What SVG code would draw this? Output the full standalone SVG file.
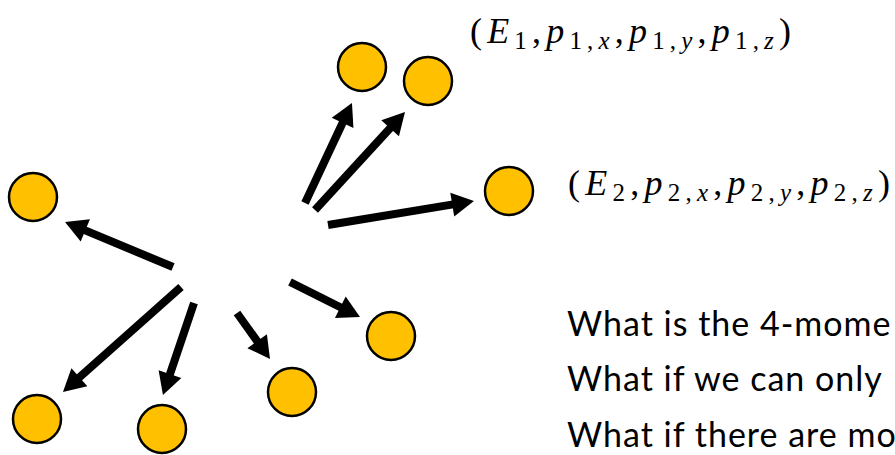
<svg xmlns="http://www.w3.org/2000/svg" width="895" height="455" viewBox="0 0 895 455">
<defs>
<marker id="ah" markerUnits="userSpaceOnUse" markerWidth="24" markerHeight="24" refX="4" refY="12" orient="auto" overflow="visible">
<path d="M0,0 L22,12 L0,24 z" fill="#000"/>
</marker>
<style>
.p{fill:#FFC000;stroke:#000;stroke-width:2.5}
.a{stroke:#000;stroke-width:8;fill:none;marker-end:url(#ah)}
.m{font-family:"Liberation Serif",serif;font-size:36px;fill:#000}
.i{font-style:italic}
.s{font-size:25px}
.q{font-family:Lato,"Liberation Sans",sans-serif;font-size:34px;letter-spacing:1px;fill:#000}
</style>
</defs>
<g id="connectors">
<line class="a" x1="173" y1="267" x2="81.6" y2="228.9"/>
<line class="a" x1="305" y1="203" x2="344.3" y2="119.3"/>
<line class="a" x1="315" y1="210" x2="392.8" y2="125.3"/>
<line class="a" x1="328" y1="225" x2="456.2" y2="203.9"/>
<line class="a" x1="181" y1="287" x2="76.4" y2="380"/>
<line class="a" x1="194" y1="303" x2="168.7" y2="377.9"/>
<line class="a" x1="237" y1="313" x2="259.5" y2="344.4"/>
<line class="a" x1="290" y1="282" x2="343.9" y2="309"/>
</g>
<g id="p1a"><circle class="p" cx="362" cy="67" r="24"/></g>
<g id="p1b"><circle class="p" cx="428" cy="81" r="24"/></g>
<g id="p2"><circle class="p" cx="509" cy="191" r="24"/></g>
<g id="pl"><circle class="p" cx="33" cy="197" r="24"/></g>
<g id="pb1"><circle class="p" cx="37" cy="419" r="24"/></g>
<g id="pb2"><circle class="p" cx="162" cy="429" r="24"/></g>
<g id="pb3"><circle class="p" cx="292" cy="392" r="24"/></g>
<g id="pb4"><circle class="p" cx="391" cy="336" r="24"/></g>
<g id="label1">
<text class="m" x="470" y="43" textLength="321" lengthAdjust="spacing">(<tspan class="i">E</tspan><tspan class="s" dy="6">1</tspan><tspan dy="-6">,</tspan><tspan class="i">p</tspan><tspan class="s" dy="6">1,</tspan><tspan class="s i">x</tspan><tspan dy="-6">,</tspan><tspan class="i">p</tspan><tspan class="s" dy="6">1,</tspan><tspan class="s i">y</tspan><tspan dy="-6">,</tspan><tspan class="i">p</tspan><tspan class="s" dy="6">1,</tspan><tspan class="s i">z</tspan><tspan dy="-6">)</tspan></text>
</g>
<g id="label2">
<text class="m" x="568" y="195" textLength="322" lengthAdjust="spacing">(<tspan class="i">E</tspan><tspan class="s" dy="6">2</tspan><tspan dy="-6">,</tspan><tspan class="i">p</tspan><tspan class="s" dy="6">2,</tspan><tspan class="s i">x</tspan><tspan dy="-6">,</tspan><tspan class="i">p</tspan><tspan class="s" dy="6">2,</tspan><tspan class="s i">y</tspan><tspan dy="-6">,</tspan><tspan class="i">p</tspan><tspan class="s" dy="6">2,</tspan><tspan class="s i">z</tspan><tspan dy="-6">)</tspan></text>
</g>
<g id="questions">
<text class="q" x="567" y="336">What is the 4-mome</text>
<text class="q" x="567" y="391">What if we can only</text>
<text class="q" x="567" y="447">What if there are mo</text>
</g>
</svg>
